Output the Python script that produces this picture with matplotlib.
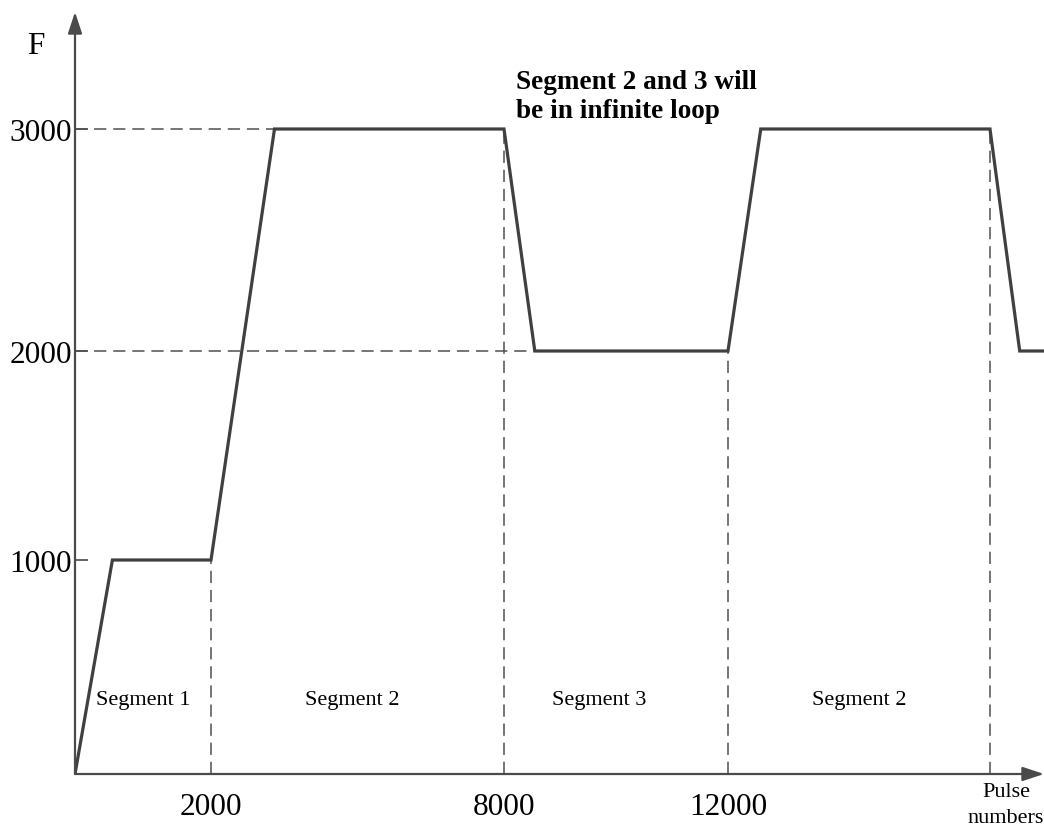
import matplotlib
matplotlib.use('Agg')
import matplotlib.pyplot as plt
import numpy as np

# pulse numbers / frequency profile (schematic, axis not to scale)
pulse = [0, 550, 2000, 3300, 8000, 8550, 12000, 12750, 18000, 18550, 19000]
freq = [0, 1000, 1000, 3000, 3000, 2000, 2000, 3000, 3000, 2000, 2000]

x_ticks = [2000, 8000, 12000]
y_ticks = [1000, 2000, 3000]

seg_names = ['Segment 1', 'Segment 2', 'Segment 3', 'Segment 2']
seg_centers = [1000, 4900, 9700, 15000]

# schematic axes: piecewise mapping from value to drawn length (pixels)
x_knots = [0, 2000, 8000, 12000, 18000, 19000]
x_px = [0, 136, 429, 653, 915, 969]
y_knots = [0, 1000, 2000, 3000, 3540]
y_px = [0, 214, 423, 645, 762]

W, H = 1044, 828
plt.rcParams['font.family'] = ['Liberation Serif', 'DejaVu Serif']

fig = plt.figure(figsize=(W / 100, H / 100), dpi=100, facecolor='w')
ax = fig.add_axes([75 / W, 53 / H, 969 / W, 762 / H])

ax.set_xscale('function', functions=(lambda v: np.interp(v, x_knots, x_px),
                                     lambda v: np.interp(v, x_px, x_knots)))
ax.set_yscale('function', functions=(lambda v: np.interp(v, y_knots, y_px),
                                     lambda v: np.interp(v, y_px, y_knots)))
ax.set_xlim(0, 19000)
ax.set_ylim(0, 3540)

line_col = '#404040'
dash_col = '#505050'
dash = (0, (8, 4.5))

# dashed guides
ax.plot([0, pulse[4]], [3000, 3000], color=dash_col, lw=1.1, linestyle=dash)
ax.plot([0, pulse[5]], [2000, 2000], color=dash_col, lw=1.1, linestyle=dash)
ax.plot([pulse[2], pulse[2]], [0, freq[2]], color=dash_col, lw=1.1, linestyle=dash)
ax.plot([pulse[4], pulse[4]], [0, freq[4]], color=dash_col, lw=1.1, linestyle=dash)
ax.plot([pulse[6], pulse[6]], [0, freq[6]], color=dash_col, lw=1.1, linestyle=dash)
ax.plot([pulse[8], pulse[8]], [0, freq[8]], color=dash_col, lw=1.1, linestyle=dash)

ax.plot(pulse, freq, color=line_col, lw=2.3, solid_joinstyle='miter')

for name, xc in zip(seg_names, seg_centers):
    ax.text(xc, 350, name, ha='center', va='center', fontsize=16)

for s in ax.spines.values():
    s.set_visible(False)

# axes with arrows
ax.annotate('', xy=(1.0, 0), xytext=(0, 0), xycoords='axes fraction',
            arrowprops=dict(arrowstyle='-|>,head_length=13,head_width=4.3', mutation_scale=1,
                            color='#4a4a4a', lw=1.6, shrinkA=0, shrinkB=0), annotation_clip=False)
ax.annotate('', xy=(0, 1.0), xytext=(0, 0), xycoords='axes fraction',
            arrowprops=dict(arrowstyle='-|>,head_length=13,head_width=4.3', mutation_scale=1,
                            color='#4a4a4a', lw=1.6, shrinkA=0, shrinkB=0), annotation_clip=False)

ax.set_xticks(x_ticks)
ax.set_xticklabels([str(v) for v in x_ticks])
ax.set_yticks(y_ticks)
ax.set_yticklabels([str(v) for v in y_ticks])
ax.minorticks_off()
ax.tick_params(axis='x', length=0, pad=13, labelsize=22.5)
ax.tick_params(axis='y', direction='in', length=9.5, width=1.2, color='#4a4a4a', pad=2,
               labelsize=22.5)

fig.text(36 / W, 1 - 46 / H, 'F', ha='center', va='center', fontsize=22.5)
fig.text(516 / W, 1 - 97 / H, 'Segment 2 and 3 will\nbe in infinite loop',
         ha='left', va='center', fontsize=19.6, fontweight='bold', linespacing=1.22)
fig.text(1006 / W, 1 - 806 / H, 'Pulse\nnumbers', ha='center', va='center',
         fontsize=16, linespacing=1.5)

fig.savefig('out.png', dpi=100, facecolor='w')
plt.close()
